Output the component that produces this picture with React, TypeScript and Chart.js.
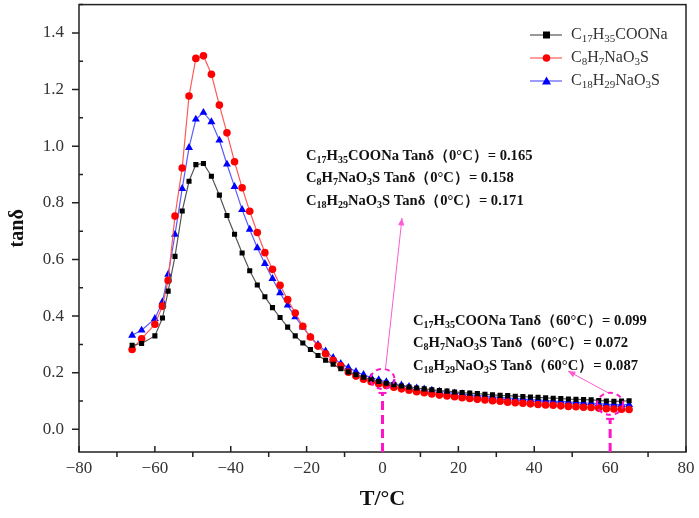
import React, { useEffect, useRef } from "react";
import { Chart, registerables } from "chart.js";

Chart.register(...registerables);

// temperatures (°C) shared by the three samples
const temps = [
  -66, -63.5, -60, -58, -56.5, -54.7, -52.8, -51, -49.2, -47.2, -45.1, -43, -41, -39, -37, -35,
  -33, -31, -29, -27, -25, -23, -21, -19, -17, -15, -13, -11, -9, -7, -5, -3, -1, 1, 3, 5, 7, 9,
  11, 13, 15, 17, 19, 21, 23, 25, 27, 29, 31, 33, 35, 37, 39, 41, 43, 45, 47, 49, 51, 53, 55, 57,
  59, 61, 63, 65,
];

// tanδ, C17H35COONa
const stearate = [
  0.297, 0.303, 0.33, 0.393, 0.488, 0.611, 0.771, 0.876, 0.935, 0.939, 0.894, 0.827, 0.755, 0.689,
  0.623, 0.56, 0.51, 0.468, 0.43, 0.395, 0.361, 0.33, 0.305, 0.282, 0.261, 0.244, 0.23, 0.214,
  0.203, 0.193, 0.184, 0.176, 0.169, 0.163, 0.158, 0.153, 0.149, 0.146, 0.143, 0.14, 0.137, 0.135,
  0.132, 0.13, 0.128, 0.126, 0.124, 0.122, 0.12, 0.119, 0.117, 0.116, 0.114, 0.113, 0.111, 0.11,
  0.109, 0.107, 0.106, 0.105, 0.104, 0.102, 0.1, 0.099, 0.1, 0.101,
];

// tanδ, C8H7NaO3S
const styreneSulfonate = [
  0.282, 0.32, 0.371, 0.435, 0.526, 0.753, 0.923, 1.177, 1.31, 1.319, 1.254, 1.145, 1.047, 0.945,
  0.853, 0.77, 0.695, 0.624, 0.565, 0.509, 0.458, 0.411, 0.364, 0.326, 0.294, 0.267, 0.244, 0.224,
  0.202, 0.188, 0.177, 0.168, 0.161, 0.155, 0.149, 0.143, 0.138, 0.133, 0.129, 0.125, 0.121, 0.118,
  0.115, 0.112, 0.109, 0.106, 0.104, 0.101, 0.099, 0.096, 0.094, 0.092, 0.09, 0.088, 0.086, 0.085,
  0.083, 0.081, 0.08, 0.078, 0.077, 0.075, 0.073, 0.072, 0.071, 0.07,
];

// tanδ, C18H29NaO3S
const dodecylSulfonate = [
  0.332, 0.35, 0.391, 0.45, 0.547, 0.688, 0.85, 0.995, 1.095, 1.119, 1.086, 1.021, 0.936, 0.857,
  0.776, 0.706, 0.641, 0.585, 0.532, 0.482, 0.438, 0.397, 0.361, 0.326, 0.299, 0.276, 0.253, 0.232,
  0.218, 0.204, 0.193, 0.183, 0.175, 0.168, 0.162, 0.156, 0.151, 0.146, 0.142, 0.138, 0.134, 0.131,
  0.128, 0.125, 0.122, 0.12, 0.117, 0.115, 0.113, 0.111, 0.109, 0.107, 0.105, 0.104, 0.102, 0.1,
  0.099, 0.097, 0.096, 0.094, 0.093, 0.091, 0.089, 0.088, 0.087, 0.087,
];

const seriesNames = ["C17H35COONa", "C8H7NaO3S", "C18H29NaO3S"];
const xTicks = [-80, -60, -40, -20, 0, 20, 40, 60, 80];
const yTicks = [0, 0.2, 0.4, 0.6, 0.8, 1.0, 1.2, 1.4];
const tanAt0 = [0.165, 0.158, 0.171];
const tanAt60 = [0.099, 0.072, 0.087];

const SERIF = '"Liberation Serif", "Times New Roman", serif';
const MAGENTA = "#ff14c8";

// draw a chemical formula, digits as subscripts; returns end x
function drawFormula(ctx: CanvasRenderingContext2D, s: string, x: number, y: number, size: number, bold: boolean) {
  const w = bold ? "bold " : "";
  let cx = x;
  for (const ch of s) {
    const sub = /[0-9]/.test(ch);
    ctx.font = `${w}${sub ? Math.round(size * 0.68) : size}px ${SERIF}`;
    ctx.fillText(ch, cx, y + (sub ? size * 0.28 : 0));
    cx += ctx.measureText(ch).width;
  }
  return cx;
}

const overlay = {
  id: "overlay",
  afterDatasetsDraw(chart: any) {
    const ctx: CanvasRenderingContext2D = chart.ctx;
    const { left, right, top, bottom } = chart.chartArea;
    const xs = chart.scales.x;
    const ys = chart.scales.y;
    ctx.save();

    // frame
    ctx.strokeStyle = "#222";
    ctx.lineWidth = 1.5;
    ctx.strokeRect(left, top, right - left, bottom - top);

    // ticks
    ctx.lineWidth = 1.5;
    ctx.beginPath();
    yTicks.forEach((v) => {
      const p = ys.getPixelForValue(v);
      ctx.moveTo(left - 7, p);
      ctx.lineTo(left, p);
      const m = ys.getPixelForValue(v + 0.1);
      ctx.moveTo(left, m);
      ctx.lineTo(left + 4, m);
    });
    xTicks.forEach((v, i) => {
      const p = xs.getPixelForValue(v);
      ctx.moveTo(p, bottom);
      ctx.lineTo(p, bottom - 6);
      if (i < xTicks.length - 1) {
        const m = xs.getPixelForValue(v + 10);
        ctx.moveTo(m, bottom);
        ctx.lineTo(m, bottom + 5);
      }
    });
    ctx.stroke();

    // dashed markers at 0 °C and 60 °C
    const marks = [
      { t: 0, v: 0.178, rx: 12, ry: 10 },
      { t: 60, v: 0.09, rx: 13, ry: 11 },
    ];
    ctx.strokeStyle = MAGENTA;
    marks.forEach((mk) => {
      const cx = xs.getPixelForValue(mk.t);
      const cy = ys.getPixelForValue(mk.v);
      ctx.lineWidth = 2;
      ctx.setLineDash([5, 4]);
      ctx.beginPath();
      ctx.ellipse(cx, cy, mk.rx, mk.ry, 0, 0, Math.PI * 2);
      ctx.stroke();
      ctx.lineWidth = 3;
      ctx.setLineDash([9, 5]);
      ctx.beginPath();
      ctx.moveTo(cx, bottom);
      ctx.lineTo(cx, cy + mk.ry + 4);
      ctx.stroke();
      ctx.setLineDash([]);
      ctx.lineWidth = 2;
      ctx.beginPath();
      ctx.moveTo(cx - 4, cy + mk.ry + 4);
      ctx.lineTo(cx + 4, cy + mk.ry + 4);
      ctx.stroke();
    });

    // arrows
    const arrow = (x1: number, y1: number, x2: number, y2: number) => {
      ctx.strokeStyle = "#ff5ad2";
      ctx.fillStyle = "#ff5ad2";
      ctx.lineWidth = 1;
      ctx.beginPath();
      ctx.moveTo(x1, y1);
      ctx.lineTo(x2, y2);
      ctx.stroke();
      const a = Math.atan2(y2 - y1, x2 - x1);
      ctx.beginPath();
      ctx.moveTo(x2, y2);
      ctx.lineTo(x2 - 8 * Math.cos(a - 0.4), y2 - 8 * Math.sin(a - 0.4));
      ctx.lineTo(x2 - 8 * Math.cos(a + 0.4), y2 - 8 * Math.sin(a + 0.4));
      ctx.closePath();
      ctx.fill();
    };
    const c0x = xs.getPixelForValue(0);
    const c0y = ys.getPixelForValue(marks[0].v);
    arrow(c0x + 3, c0y - 10, 402, 218);
    const c60x = xs.getPixelForValue(60);
    const c60y = ys.getPixelForValue(marks[1].v);
    arrow(c60x, c60y - 10, 568, 371);

    // text blocks
    ctx.fillStyle = "#111";
    ctx.textBaseline = "middle";
    ctx.textAlign = "left";
    const block = (vals: number[], temp: string, x: number, y0: number) => {
      vals.forEach((v, i) => {
        const y = y0 + i * 22.5;
        const ex = drawFormula(ctx, seriesNames[i], x, y, 14.6, true);
        ctx.font = `bold 14.6px ${SERIF}`;
        ctx.fillText(` Tanδ（${temp}°C）= ${v.toFixed(3)}`, ex, y);
      });
    };
    block(tanAt0, "0", 306, 156);
    block(tanAt60, "60", 413, 321);

    // legend
    const colors = ["#000", "#ff0000", "#0000ff"];
    const lineColors = ["#555", "#ff5a5a", "#5a5aff"];
    const shapes = ["rect", "circle", "triangle"];
    seriesNames.forEach((name, i) => {
      const y = 35 + i * 23;
      ctx.strokeStyle = lineColors[i];
      ctx.lineWidth = 1.2;
      ctx.beginPath();
      ctx.moveTo(530, y);
      ctx.lineTo(562, y);
      ctx.stroke();
      ctx.fillStyle = colors[i];
      ctx.beginPath();
      if (shapes[i] === "rect") ctx.rect(543, y - 3.5, 7, 7);
      else if (shapes[i] === "circle") ctx.arc(546.5, y, 3.8, 0, Math.PI * 2);
      else {
        ctx.moveTo(546.5, y - 4.5);
        ctx.lineTo(551, y + 3.5);
        ctx.lineTo(542, y + 3.5);
        ctx.closePath();
      }
      ctx.fill();
      ctx.fillStyle = "#333";
      drawFormula(ctx, name, 571, y, 16, false);
    });

    ctx.restore();
  },
};

const App = () => {
  const chartRef = useRef<HTMLCanvasElement | null>(null);

  useEffect(() => {
    document.body.style.margin = "0";
    if (!chartRef.current) return;
    const ctx = chartRef.current.getContext("2d");
    if (!ctx) return;

    const mk = (vals: number[]) => vals.map((v, i) => ({ x: temps[i], y: v }));

    const chart = new Chart(ctx, {
      type: "line",
      data: {
        datasets: [
          {
            label: seriesNames[0],
            data: mk(stearate),
            borderColor: "#555",
            backgroundColor: "#000",
            pointStyle: "rect",
            pointRadius: 3.6,
            borderWidth: 1.2,
            pointBorderWidth: 0,
          },
          {
            label: seriesNames[1],
            data: mk(styreneSulfonate),
            borderColor: "#ff5a5a",
            backgroundColor: "#ff0000",
            pointStyle: "circle",
            pointRadius: 3.8,
            borderWidth: 1.2,
            pointBorderWidth: 0,
          },
          {
            label: seriesNames[2],
            data: mk(dodecylSulfonate),
            borderColor: "#5a5aff",
            backgroundColor: "#0000ff",
            pointStyle: "triangle",
            pointRadius: 4.6,
            borderWidth: 1.2,
            pointBorderWidth: 0,
          },
        ],
      },
      options: {
        animation: false,
        responsive: true,
        maintainAspectRatio: false,
        layout: { padding: { top: 3, right: 13, left: 0, bottom: 0 } },
        plugins: { legend: { display: false }, tooltip: { enabled: false } },
        scales: {
          x: {
            type: "linear",
            min: -80,
            max: 80,
            afterBuildTicks: (s: any) => {
              s.ticks = xTicks.map((v) => ({ value: v }));
            },
            afterFit: (s: any) => {
              s.height = 66;
              s.paddingLeft = 0;
              s.paddingRight = 0;
            },
            grid: { display: false, drawTicks: false },
            border: { display: false },
            ticks: {
              padding: 6,
              color: "#333",
              font: { family: SERIF, size: 17 },
              callback: (v: any) => String(v).replace("-", "\u2212"),
            },
            title: {
              display: true,
              text: "T/°C",
              color: "#111",
              font: { family: SERIF, size: 22, weight: "bold" },
              padding: { top: 0, bottom: 5 },
            },
          },
          y: {
            type: "linear",
            min: -0.08,
            max: 1.5,
            afterBuildTicks: (s: any) => {
              s.ticks = yTicks.map((v) => ({ value: v }));
            },
            afterFit: (s: any) => {
              s.width = 79;
              s.paddingTop = 0;
              s.paddingBottom = 0;
            },
            grid: { display: false, drawTicks: false },
            border: { display: false },
            ticks: {
              padding: 15,
              color: "#333",
              font: { family: SERIF, size: 17 },
              callback: (v: any) => Number(v).toFixed(1),
            },
            title: {
              display: true,
              text: "tanδ",
              color: "#111",
              font: { family: SERIF, size: 20, weight: "bold" },
              padding: { top: 6, bottom: 4 },
            },
          },
        },
      },
      plugins: [overlay],
    });

    return () => {
      chart.destroy();
    };
  }, []);

  return (
    <div style={{ position: "absolute", left: 0, top: 0, width: "699px", height: "518px", background: "#fff" }}>
      <canvas ref={chartRef}></canvas>
    </div>
  );
};

export default App;
